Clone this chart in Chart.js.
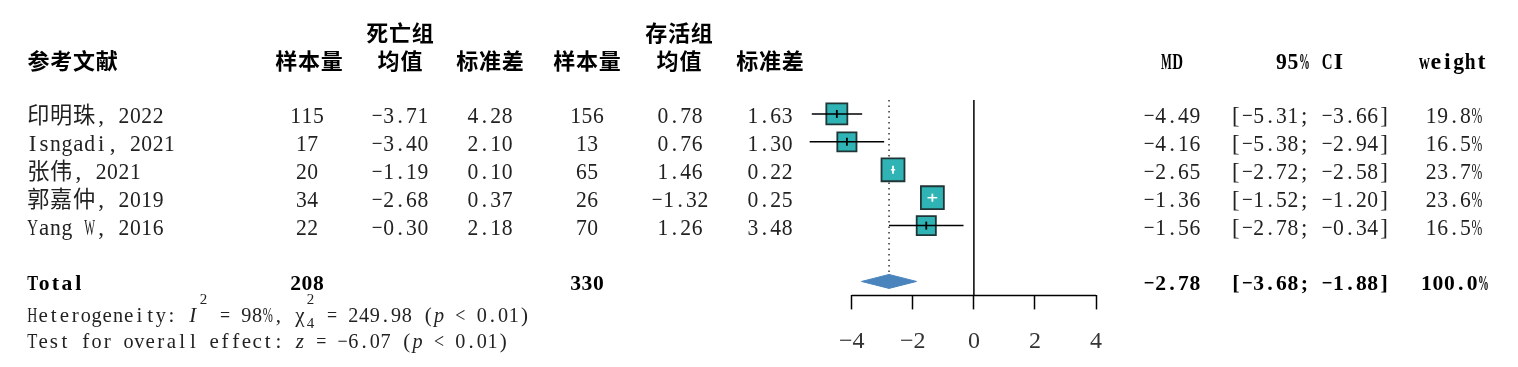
<!DOCTYPE html>
<html>
<head>
<meta charset="utf-8">
<script src="https://cdn.jsdelivr.net/npm/chart.js@4"></script>
<style>
  html, body { margin: 0; padding: 0; background: #fff; }
</style>
</head>
<body>
<canvas id="forest" width="1518" height="367"></canvas>
<script>
// study rows
const studies = ['印明珠, 2022', 'Isngadi, 2021', '张伟, 2021', '郭嘉仲, 2019', 'Yang W, 2016'];
const deadN = [115, 17, 20, 34, 22];
const deadMean = [-3.71, -3.40, -1.19, -2.68, -0.30];
const deadSD = [4.28, 2.10, 0.10, 0.37, 2.18];
const aliveN = [156, 13, 65, 26, 70];
const aliveMean = [0.78, 0.76, 1.46, -1.32, 1.26];
const aliveSD = [1.63, 1.30, 0.22, 0.25, 3.48];
const md = [-4.49, -4.16, -2.65, -1.36, -1.56];
const ciLow = [-5.31, -5.38, -2.72, -1.52, -2.78];
const ciHigh = [-3.66, -2.94, -2.58, -1.20, -0.34];
const weight = [19.8, 16.5, 23.7, 23.6, 16.5];

// pooled result
const totalN = [208, 330];
const totalMD = -2.78;
const totalLow = -3.68;
const totalHigh = -1.88;
const totalWeight = 100.0;
const hetI2 = 98, hetChi2 = 249.98, hetDf = 4, hetP = '< 0.01';
const overallZ = -6.07, overallP = '< 0.01';

const xTicks = [-4, -2, 0, 2, 4];

const totalRow = studies.length + 2;
const minus = s => s.replace('-', '\u2212');
const f2 = v => minus(v.toFixed(2));
const side = w => 4.72 * Math.sqrt(w);   // square side in px, area ~ weight

function ciInside(chart, i) {
  const x = chart.scales.x;
  return x.getPixelForValue(ciHigh[i]) - x.getPixelForValue(ciLow[i]) < side(weight[i]);
}

const ciData = [];
studies.forEach((s, i) => {
  ciData.push({x: ciLow[i], y: i + 1}, {x: ciHigh[i], y: i + 1}, {x: ciHigh[i], y: null});
});
const estData = md.map((v, i) => ({x: v, y: i + 1}));
const diamond = [
  {x: totalLow, y: totalRow}, {x: totalMD, y: totalRow - 0.25},
  {x: totalHigh, y: totalRow}, {x: totalMD, y: totalRow + 0.25},
  {x: totalLow, y: totalRow}
];

const SERIF = '"Liberation Serif", "Noto Sans CJK SC", serif';
const isWide = ch => /[\u2e80-\u9fff\uff00-\uffef]/.test(ch);

// fixed-pitch text: every glyph sits in its own cell, CJK takes two
function mono(ctx, text, x, y, align, font, cell, color) {
  const chars = [...text];
  const total = chars.reduce((s, c) => s + (isWide(c) ? 2 : 1) * cell, 0);
  let cx = align === 'left' ? x : align === 'right' ? x - total : x - total / 2;
  ctx.save();
  ctx.font = font;
  ctx.fillStyle = color || '#222';
  ctx.textAlign = 'center';
  ctx.textBaseline = 'alphabetic';
  chars.forEach(c => {
    const w = (isWide(c) ? 2 : 1) * cell;
    if (c !== ' ') ctx.fillText(c, cx + w / 2, y, w - 0.6);
    cx += w;
  });
  ctx.restore();
  return cx;
}

const tableText = {
  id: 'tableText',
  afterDraw(chart) {
    const ctx = chart.ctx, ys = chart.scales.y;
    const rowY = r => ys.getPixelForValue(r) + 9;
    const body = '23px ' + SERIF, bold = 'bold 22px ' + SERIF, boldLat = 'bold 24px ' + SERIF;
    const C = 11.4;
    const put = (t, x, y, align, font, color) => mono(ctx, t, x, y, align, font || body, C, color);

    // headers
    put('死亡组', 400, 41, 'center', bold, '#000');
    put('存活组', 679, 41, 'center', bold, '#000');
    put('参考文献', 27, 69, 'left', bold, '#000');
    [['样本量', 309], ['均值', 400], ['标准差', 490], ['样本量', 587], ['均值', 679], ['标准差', 770]]
      .forEach(h => put(h[0], h[1], 69, 'center', bold, '#000'));
    put('MD', 1172, 69, 'center', boldLat, '#000');
    put('95% CI', 1310, 69, 'center', boldLat, '#000');
    put('weight', 1453, 69, 'center', boldLat, '#000');

    // study rows
    studies.forEach((s, i) => {
      const y = rowY(i + 1);
      put(s, 27, y, 'left');
      put(String(deadN[i]), 307, y, 'center');
      put(f2(deadMean[i]), 400, y, 'center');
      put(f2(deadSD[i]), 490, y, 'center');
      put(String(aliveN[i]), 587, y, 'center');
      put(f2(aliveMean[i]), 680, y, 'center');
      put(f2(aliveSD[i]), 770, y, 'center');
      put(f2(md[i]), 1172, y, 'center');
      put('[' + f2(ciLow[i]) + '; ' + f2(ciHigh[i]) + ']', 1310, y, 'center');
      put(weight[i].toFixed(1) + '%', 1454, y, 'center');
    });

    // total row
    const ty = rowY(totalRow);
    put('Total', 27, ty, 'left', bold, '#000');
    put(String(totalN[0]), 307, ty, 'center', bold, '#000');
    put(String(totalN[1]), 587, ty, 'center', bold, '#000');
    put(f2(totalMD), 1172, ty, 'center', bold, '#000');
    put('[' + f2(totalLow) + '; ' + f2(totalHigh) + ']', 1310, ty, 'center', bold, '#000');
    put(totalWeight.toFixed(1) + '%', 1455, ty, 'center', bold, '#000');

    // heterogeneity and overall effect
    const c2 = 10.7, small = '15px ' + SERIF;
    const reg = '21px ' + SERIF, ital = 'italic 21px ' + SERIF;
    let x = 27, y = 322;
    x = mono(ctx, 'Heterogeneity: ', x, y, 'left', reg, c2);
    x = mono(ctx, 'I', x, y, 'left', ital, c2);
    x = mono(ctx, '2', x, y - 18, 'left', small, c2);
    x = mono(ctx, ' = ' + hetI2 + '%, ', x, y, 'left', reg, c2);
    x = mono(ctx, '\u03c7', x, y, 'left', reg, c2);
    mono(ctx, '2', x, y - 18, 'left', small, c2);
    x = mono(ctx, String(hetDf), x, y + 6, 'left', small, c2);
    x = mono(ctx, ' = ' + hetChi2.toFixed(2) + ' (', x, y, 'left', reg, c2);
    x = mono(ctx, 'p', x, y, 'left', ital, c2);
    mono(ctx, ' ' + hetP + ')', x, y, 'left', reg, c2);

    x = 27; y = 348;
    x = mono(ctx, 'Test for overall effect: ', x, y, 'left', reg, c2);
    x = mono(ctx, 'z', x, y, 'left', ital, c2);
    x = mono(ctx, ' = ' + f2(overallZ) + ' (', x, y, 'left', reg, c2);
    x = mono(ctx, 'p', x, y, 'left', ital, c2);
    mono(ctx, ' ' + overallP + ')', x, y, 'left', reg, c2);
  }
};

new Chart(document.getElementById('forest'), {
  type: 'scatter',
  data: {
    datasets: [{
        type: 'line',
        data: [{x: 0, y: 0.5}, {x: 0, y: totalRow + 0.5}],
        borderColor: '#000', borderWidth: 1.5, pointRadius: 0, clip: false, order: 6
      }, {
        type: 'line',
        data: [{x: totalMD, y: 0.5}, {x: totalMD, y: totalRow - 0.25}],
        borderColor: '#333', borderWidth: 1.5, borderDash: [1.5, 4], pointRadius: 0, clip: false, order: 5
      }, {
        type: 'line',
        data: [{x: xTicks[0], y: totalRow + 0.5}, {x: xTicks[xTicks.length - 1], y: totalRow + 0.5}],
        borderColor: '#000', borderWidth: 1.5, pointRadius: 0, clip: false, order: 4
      }, {
        label: 'weight',
        data: estData,
        pointStyle: 'rect',
        pointRadius: c => side(weight[c.dataIndex]) / Math.SQRT2,
        pointBackgroundColor: '#2fb3b5',
        pointBorderColor: '#1f3536',
        pointBorderWidth: 1.8,
        clip: false, order: 3
      }, {
        type: 'line',
        data: ciData,
        borderColor: '#000', borderWidth: 1.5, pointRadius: 0, spanGaps: false,
        segment: {
          borderColor: c => ciInside(c.chart, Math.floor(c.p0DataIndex / 3)) ? '#fff' : '#000'
        },
        clip: false, order: 2
      }, {
        data: estData,
        pointStyle: 'line', rotation: 90, pointRadius: 4, pointBorderWidth: 1.8,
        pointBorderColor: c => ciInside(c.chart, c.dataIndex) ? '#fff' : '#000',
        clip: false, order: 1
      }, {
        type: 'line',
        data: diamond,
        fill: 'shape',
        backgroundColor: '#4a84bd', borderColor: '#4a84bd', borderWidth: 1,
        pointRadius: 0, tension: 0, clip: false, order: 0
      }
    ]
  },
  options: {
    responsive: false,
    animation: false,
    events: [],
    layout: { padding: { left: 806, right: 422, top: 100, bottom: 0 } },
    plugins: { legend: { display: false }, tooltip: { enabled: false } },
    scales: {
      x: {
        type: 'linear', min: -5.5, max: 4,
        afterBuildTicks: s => { s.ticks = xTicks.map(v => ({value: v})); },
        afterFit: s => { s.height = 71.6; },
        border: { display: false },
        grid: { drawOnChartArea: false, drawTicks: true, tickLength: 14, tickColor: '#000', tickWidth: 1.5 },
        ticks: {
          padding: 18, color: '#333',
          font: { family: 'Liberation Serif', size: 24 },
          callback: v => minus(String(v))
        }
      },
      y: { type: 'linear', display: false, min: 0.5, max: totalRow + 0.5, reverse: true }
    }
  },
  plugins: [tableText]
});
</script>
</body>
</html>
